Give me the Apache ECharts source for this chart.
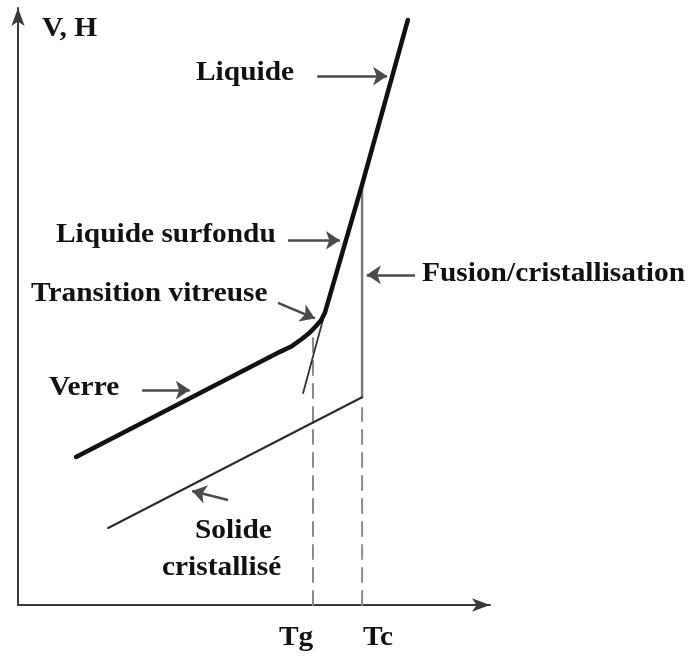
<!DOCTYPE html>
<html>
<head>
<meta charset="utf-8">
<style>
  html, body { margin: 0; padding: 0; background: #fff; }
  #chart { width: 691px; height: 657px; }
</style>
<script src="https://cdn.jsdelivr.net/npm/echarts@6/dist/echarts.min.js"></script>
</head>
<body>
<div id="chart"></div>
<script>
// axes in arbitrary units: T (0-100), V/H (0-100)
const tgValue = 62.5;
const tcValue = 72.9;

// verre -> transition vitreuse -> liquide surfondu -> liquide (thick curve)
const verreLiquide = [
  [12.3, 24.8], [55.5, 42.4], [58.1, 43.4], [60.2, 44.6], [61.9, 45.7],
  [63.1, 46.7], [64.2, 47.7], [65.0, 48.9], [72.9, 70.4], [82.6, 98.0]
];
// extrapolation of the supercooled liquid below Tg
const extrapolation = [[65.0, 48.9], [60.4, 35.5]];
// solide cristallise
const cristal = [[19.1, 12.9], [72.9, 34.8]];
// saut a la fusion / cristallisation
const fusion = [[tcValue, 34.8], [tcValue, 70.4]];
// dashed drop lines
const dropTg = [[tgValue, 0], [tgValue, 45.4]];
const dropTc = [[tcValue, 0], [tcValue, 33.0]];

// annotation arrows [from, to]
const arrows = [
  [[63.4, 88.6], [78.2, 88.6]],   // Liquide
  [[57.2, 61.1], [68.2, 61.1]],   // Liquide surfondu
  [[55.1, 50.6], [62.9, 48.0]],   // Transition vitreuse
  [[84.1, 55.3], [73.9, 55.3]],   // Fusion/cristallisation
  [[26.3, 36.0], [36.4, 36.0]],   // Verre
  [[44.5, 17.6], [36.9, 19.1]]    // Solide cristallise
];

// labels: text, left x, middle y (pixels)
const labels = [
  ['V, H', 42, 29],
  ['Liquide', 196, 73],
  ['Liquide surfondu', 56, 235],
  ['Transition vitreuse', 31, 294],
  ['Fusion/cristallisation', 422, 274],
  ['Verre', 49, 388],
  ['Solide', 195, 531],
  ['cristallisé', 162, 568],
  ['Tg', 279, 638],
  ['Tc', 363, 638]
];

const font = 'bold 28px "Liberation Serif", "Times New Roman", serif';

const chart = echarts.init(document.getElementById('chart'));

const lineSeries = (data, color, width, type) => ({
  type: 'line',
  data: data,
  symbol: 'none',
  silent: true,
  animation: false,
  lineStyle: { color: color, width: width, type: type || 'solid', cap: 'round', join: 'round' }
});

const option = {
  backgroundColor: '#fff',
  animation: false,
  grid: { left: 18, right: 201, top: 8, bottom: 52 },
  xAxis: {
    type: 'value', min: 0, max: 100,
    axisLine: {
      show: true, symbol: ['none', 'arrow'], symbolSize: [10, 18],
      lineStyle: { color: '#3a3a3a', width: 2 }
    },
    axisTick: { show: false }, axisLabel: { show: false }, splitLine: { show: false }
  },
  yAxis: {
    type: 'value', min: 0, max: 100,
    axisLine: {
      show: true, symbol: ['none', 'arrow'], symbolSize: [10, 18],
      lineStyle: { color: '#3a3a3a', width: 2 }
    },
    axisTick: { show: false }, axisLabel: { show: false }, splitLine: { show: false }
  },
  series: [
    lineSeries(dropTg, '#8a8a8a', 2, [14, 9]),
    lineSeries(dropTc, '#8a8a8a', 2, [14, 9]),
    lineSeries(fusion, '#7a7a7a', 2.5),
    lineSeries(cristal, '#2a2a2a', 2),
    lineSeries(extrapolation, '#333', 1.8),
    lineSeries(verreLiquide, '#111', 4.5),
    {
      type: 'lines',
      coordinateSystem: 'cartesian2d',
      silent: true,
      animation: false,
      symbol: ['none', 'arrow'],
      symbolSize: 14,
      lineStyle: { color: '#4a4a4a', width: 2.5, opacity: 1 },
      data: arrows.map(a => ({ coords: a }))
    }
  ],
  graphic: labels.map(l => ({
    type: 'text',
    x: l[1],
    y: l[2],
    scaleX: 1.05,
    silent: true,
    style: {
      text: l[0],
      font: font,
      fill: '#111',
      textAlign: 'left',
      textVerticalAlign: 'middle'
    }
  }))
};

chart.setOption(option);
</script>
</body>
</html>
